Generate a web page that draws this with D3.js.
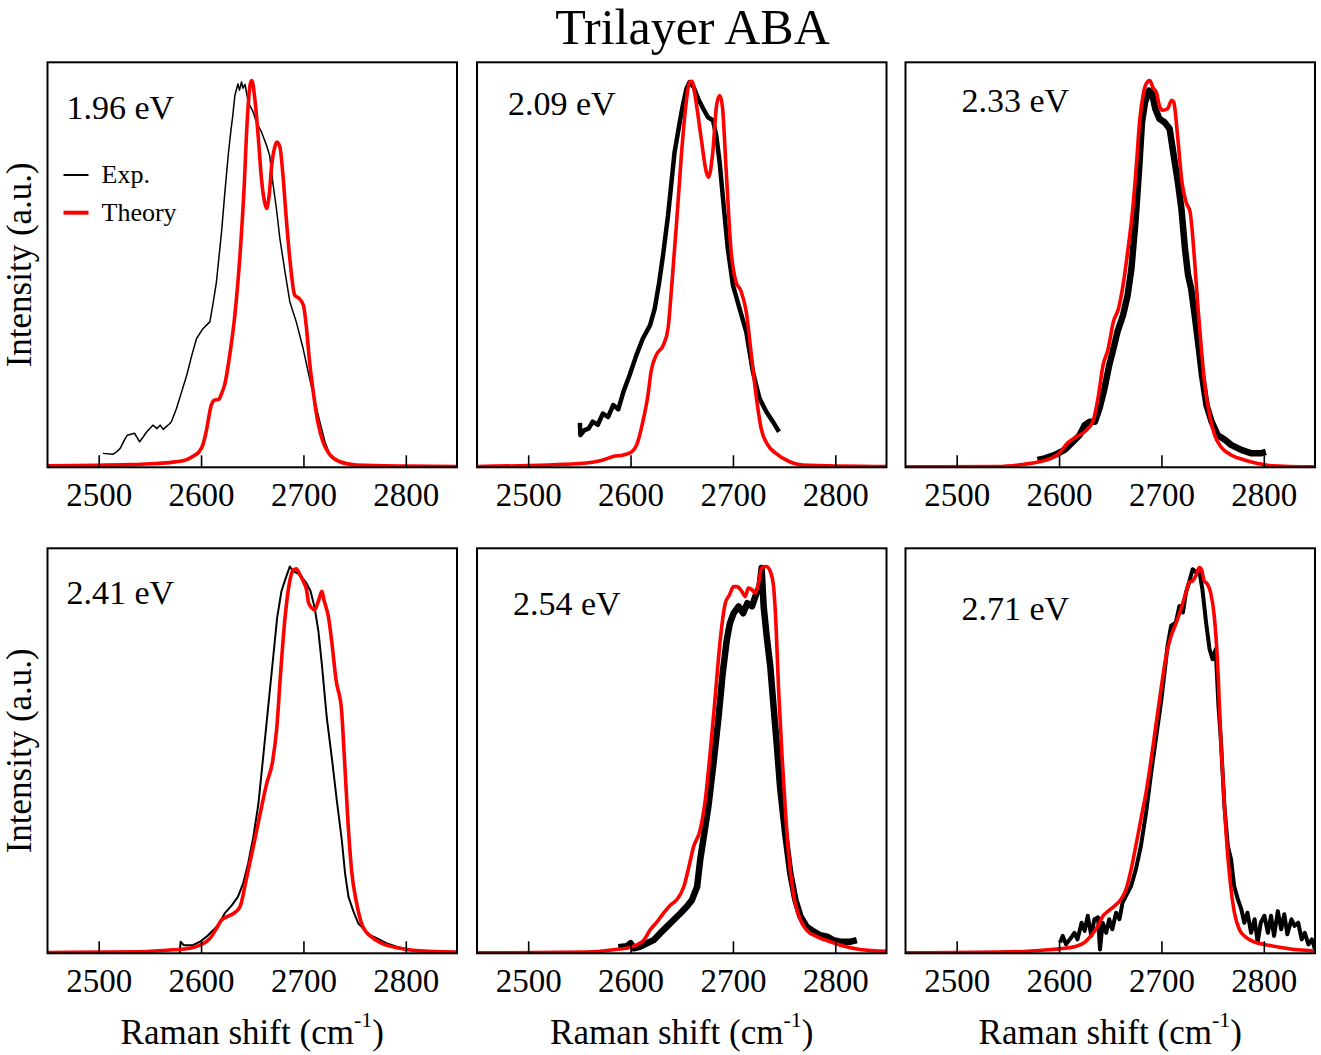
<!DOCTYPE html>
<html>
<head>
<meta charset="utf-8">
<script src="https://cdn.jsdelivr.net/npm/d3@7"></script>
<style>
  html, body { margin: 0; padding: 0; background: #fff; }
  svg { display: block; }
  text { font-family: "Liberation Serif", "Times New Roman", serif; fill: #000; }
</style>
</head>
<body>
<svg id="chart" width="1321" height="1055"></svg>
<script>
// ---------------- DATA ----------------
const chartTitle = "Trilayer ABA";
const energyLabels = ["1.96 eV", "2.09 eV", "2.33 eV", "2.41 eV", "2.54 eV", "2.71 eV"];
const xTickValues = [2500, 2600, 2700, 2800];
const xDomain = [2450, 2850];
const yDomain = [0, 1.047];
const legendLabels = ["Exp.", "Theory"];
const xAxisTitle = "Raman shift (cm";
const xAxisTitleSup = "-1";
const yAxisTitle = "Intensity (a.u.)";

// Theory curves [Raman shift, normalized intensity]
const theory196 = [[2450,0.004],[2530,0.007],[2557,0.010],[2575,0.014],[2586,0.020],[2593,0.030],[2598,0.040],[2602,0.060],[2605,0.092],[2610,0.161],[2613.5,0.174],[2617,0.175],[2620,0.190],[2623,0.213],[2628,0.290],[2633,0.393],[2638,0.548],[2642,0.720],[2645,0.892],[2648,0.990],[2649.6,1.0],[2652.5,0.953],[2656,0.849],[2659,0.746],[2662,0.686],[2664,0.669],[2666.5,0.703],[2669,0.781],[2672,0.828],[2674,0.841],[2677,0.828],[2680,0.755],[2683,0.651],[2687,0.531],[2691.5,0.445],[2696,0.436],[2700,0.419],[2703,0.359],[2706,0.273],[2710,0.187],[2714,0.118],[2719,0.066],[2726,0.032],[2735,0.015],[2752,0.006],[2800,0.003],[2850,0.002]];
const theory209 = [[2450,0.002],[2550,0.010],[2573,0.019],[2583,0.028],[2593,0.032],[2601,0.040],[2606,0.058],[2612,0.118],[2617,0.187],[2620,0.247],[2625,0.290],[2632,0.316],[2636.6,0.359],[2640,0.462],[2645,0.634],[2649.6,0.806],[2654,0.935],[2657.7,0.996],[2660,0.998],[2664,0.944],[2669,0.850],[2674,0.763],[2676,0.750],[2680,0.806],[2684,0.935],[2687,0.961],[2689.6,0.935],[2693.5,0.763],[2698,0.565],[2703,0.479],[2708,0.455],[2713,0.402],[2718,0.290],[2723,0.178],[2727.6,0.100],[2734,0.058],[2742,0.036],[2755,0.015],[2768,0.006],[2850,0.002]];
const theory233 = [[2450,0.001],[2540,0.002],[2566,0.008],[2582,0.015],[2592,0.023],[2600,0.036],[2608,0.062],[2617,0.079],[2625,0.092],[2633,0.118],[2638,0.178],[2643,0.264],[2648,0.307],[2653,0.376],[2658,0.410],[2662.5,0.471],[2667,0.557],[2672,0.669],[2675.5,0.780],[2678.6,0.892],[2682,0.961],[2685,0.991],[2688.6,1.0],[2692,0.980],[2695,0.970],[2698,0.935],[2701,0.923],[2706,0.927],[2710,0.949],[2712,0.944],[2716,0.850],[2720,0.738],[2724,0.686],[2728,0.660],[2732,0.548],[2735.5,0.419],[2739,0.307],[2742,0.221],[2747,0.135],[2752,0.083],[2758,0.053],[2768,0.032],[2781,0.019],[2794,0.010],[2807,0.004],[2850,0.001]];
const theory241 = [[2450,0.002],[2540,0.004],[2573,0.009],[2589,0.013],[2599,0.021],[2609,0.039],[2615,0.064],[2620,0.086],[2625,0.094],[2631.6,0.103],[2638,0.120],[2644,0.189],[2651,0.275],[2657,0.352],[2664,0.438],[2670,0.498],[2674,0.584],[2677.6,0.721],[2682,0.867],[2686,0.953],[2690,0.991],[2693,0.994],[2696.6,0.979],[2700,0.961],[2703,0.940],[2705,0.906],[2708,0.893],[2711,0.888],[2715,0.914],[2718,0.936],[2720,0.914],[2724.6,0.867],[2727.6,0.807],[2732,0.704],[2737,0.635],[2740,0.506],[2743.6,0.335],[2747,0.215],[2752,0.129],[2758,0.069],[2768,0.039],[2781,0.021],[2794,0.013],[2810,0.007],[2850,0.003]];
const theory254 = [[2450,0.001],[2557,0.003],[2583,0.009],[2600,0.016],[2606,0.022],[2613,0.034],[2619,0.060],[2626,0.082],[2632,0.103],[2639,0.125],[2645,0.138],[2652,0.172],[2657,0.224],[2661.6,0.276],[2668,0.319],[2673,0.397],[2677.7,0.517],[2682.7,0.664],[2687.6,0.810],[2692.5,0.905],[2696.7,0.927],[2700.6,0.948],[2704,0.948],[2708.8,0.935],[2712,0.922],[2715,0.944],[2718.6,0.940],[2722,0.931],[2725,0.957],[2728,0.996],[2732.6,1.0],[2736.5,0.987],[2739.7,0.948],[2742,0.853],[2744.6,0.681],[2748,0.509],[2751,0.379],[2754,0.267],[2759,0.155],[2766,0.086],[2772,0.060],[2782,0.043],[2795,0.030],[2808,0.019],[2824,0.010],[2850,0.005]];
const theory271 = [[2450,0.001],[2540,0.003],[2573,0.006],[2589,0.009],[2602,0.012],[2615,0.017],[2625,0.028],[2631,0.045],[2638,0.071],[2643,0.097],[2648,0.109],[2654,0.122],[2660.6,0.140],[2665.5,0.166],[2670.4,0.217],[2675,0.278],[2680,0.347],[2685,0.416],[2690,0.502],[2695,0.597],[2700,0.691],[2704.6,0.769],[2709.5,0.821],[2714,0.851],[2719,0.890],[2724,0.933],[2727,0.959],[2730.5,0.963],[2733.6,0.976],[2737,0.997],[2739,0.993],[2741.7,0.963],[2745,0.954],[2748,0.933],[2751.6,0.872],[2755,0.743],[2758,0.553],[2761.5,0.381],[2764.8,0.252],[2768,0.166],[2771.3,0.105],[2776,0.062],[2782.7,0.041],[2791,0.029],[2800.6,0.023],[2817,0.015],[2833,0.009],[2850,0.006]];

// Experimental curves [Raman shift, normalized intensity]
const exp196 = [[2504,0.036],[2514,0.034],[2517.6,0.040],[2521,0.049],[2526,0.075],[2528,0.083],[2535,0.088],[2540,0.066],[2543.6,0.079],[2547,0.092],[2553,0.109],[2557,0.100],[2560,0.109],[2563,0.098],[2566,0.105],[2569,0.112],[2571,0.118],[2576,0.152],[2581,0.195],[2586,0.238],[2591,0.290],[2595.6,0.333],[2602,0.359],[2608.6,0.376],[2612,0.428],[2615,0.479],[2620,0.608],[2623,0.703],[2626.5,0.806],[2629,0.867],[2631,0.910],[2633,0.961],[2636,0.991],[2637.5,0.975],[2639.5,0.996],[2641,0.980],[2643,0.990],[2646,0.944],[2651,0.918],[2654,0.892],[2659,0.867],[2664,0.832],[2667,0.806],[2670,0.738],[2673.6,0.669],[2677,0.591],[2682,0.505],[2686.7,0.428],[2693,0.376],[2699.7,0.307],[2704.6,0.247],[2709,0.195],[2716,0.118],[2721,0.066],[2726,0.032]];
const exp209 = [[2550.5,0.115],[2551,0.083],[2555,0.096],[2559,0.100],[2563,0.118],[2568,0.110],[2573,0.139],[2578,0.130],[2583,0.161],[2588,0.150],[2593,0.195],[2599,0.238],[2605.7,0.290],[2612,0.333],[2619,0.367],[2623.6,0.410],[2628,0.479],[2631.7,0.548],[2636.6,0.651],[2640,0.738],[2643,0.815],[2648,0.892],[2651,0.935],[2654.5,0.978],[2657.7,0.996],[2661.6,0.983],[2666,0.953],[2671,0.927],[2675.6,0.905],[2680.5,0.897],[2683.7,0.858],[2687,0.789],[2690,0.703],[2695,0.565],[2700,0.471],[2706.5,0.410],[2713,0.350],[2719.5,0.247],[2726,0.178],[2732.5,0.144],[2739,0.118],[2745,0.092]];
const exp233 = [[2579,0.019],[2586,0.023],[2596,0.032],[2605.5,0.045],[2612,0.062],[2620,0.083],[2625,0.109],[2630,0.118],[2635,0.118],[2639.5,0.152],[2644.4,0.204],[2649,0.264],[2654,0.316],[2657,0.350],[2662.5,0.393],[2667,0.445],[2670.7,0.514],[2674.6,0.634],[2678,0.763],[2681,0.892],[2684,0.944],[2688,0.974],[2691,0.965],[2694,0.927],[2698,0.901],[2703,0.892],[2708,0.875],[2712,0.806],[2716,0.738],[2719.5,0.669],[2723,0.565],[2726,0.497],[2729,0.462],[2732.5,0.393],[2735.8,0.324],[2739.6,0.238],[2744,0.161],[2749,0.118],[2755,0.083],[2762,0.071],[2768,0.058],[2778,0.045],[2788,0.036],[2797,0.036],[2802,0.040]];
const exp241 = [[2579,-0.005],[2580,0.030],[2583,0.021],[2592,0.021],[2599,0.030],[2605.4,0.043],[2612,0.060],[2618,0.077],[2623,0.103],[2630,0.124],[2636,0.146],[2641,0.180],[2646,0.232],[2651,0.300],[2656,0.386],[2660.6,0.506],[2665.5,0.635],[2670.4,0.764],[2674.3,0.867],[2678.5,0.936],[2682.7,0.970],[2686.7,1.0],[2690,0.987],[2694,0.983],[2698,0.974],[2703,0.957],[2707,0.936],[2711,0.893],[2714.6,0.833],[2718,0.747],[2722.8,0.609],[2727.7,0.506],[2732.6,0.395],[2737.5,0.292],[2740.7,0.206],[2744,0.146],[2749,0.107],[2753.7,0.077],[2758.6,0.064],[2765,0.047],[2771.5,0.039],[2781,0.026],[2791,0.017],[2801,0.010]];
const exp254 = [[2588,0.016],[2596,0.018],[2600,0.026],[2603,0.013],[2609,0.017],[2616,0.026],[2622.5,0.034],[2629,0.052],[2635.5,0.069],[2642,0.086],[2648.5,0.103],[2655,0.121],[2660,0.138],[2665,0.172],[2668,0.241],[2671,0.293],[2676,0.379],[2681,0.491],[2686,0.612],[2690,0.724],[2694,0.810],[2697,0.853],[2700.6,0.879],[2705.5,0.897],[2710,0.879],[2714,0.905],[2718.6,0.897],[2723,0.931],[2726,0.948],[2728,0.996],[2730,0.897],[2733,0.819],[2736.5,0.741],[2739.7,0.638],[2743,0.534],[2746,0.431],[2751,0.310],[2756,0.207],[2761,0.138],[2766,0.095],[2772,0.069],[2779,0.056],[2785,0.047],[2792,0.043],[2798,0.034],[2805,0.030],[2815,0.030],[2821,0.034]];
const exp271 = [[2601,0.028],[2603.6,0.045],[2606.8,0.023],[2611.7,0.040],[2615,0.053],[2618,0.036],[2622,0.079],[2625,0.058],[2628,0.097],[2631.5,0.045],[2634.5,0.088],[2638,0.093],[2640,0.010],[2642.6,0.079],[2646,0.053],[2649,0.088],[2652,0.062],[2655.7,0.105],[2659,0.088],[2662,0.131],[2667,0.157],[2670.4,0.174],[2675,0.217],[2680,0.278],[2685,0.364],[2690,0.467],[2695,0.562],[2700,0.657],[2703,0.726],[2706,0.795],[2709.5,0.847],[2714,0.855],[2717.6,0.898],[2721,0.881],[2724,0.933],[2727,0.959],[2730.5,0.993],[2733.6,0.985],[2737,0.989],[2740,0.941],[2743.6,0.855],[2747,0.786],[2750,0.760],[2753,0.786],[2755.7,0.640],[2758,0.553],[2761.5,0.381],[2764.8,0.278],[2768,0.243],[2771,0.174],[2774.6,0.140],[2778,0.114],[2781,0.079],[2784,0.105],[2787.6,0.053],[2791,0.088],[2794,0.028],[2797,0.079],[2800.6,0.097],[2804,0.053],[2807,0.097],[2810,0.045],[2813.7,0.109],[2817,0.062],[2820,0.101],[2823,0.049],[2827,0.088],[2830,0.071],[2833.6,0.079],[2837,0.036],[2840,0.053],[2843.6,0.023],[2847,0.036],[2850,0.010]];

// ---------------- LAYOUT / STYLE ----------------
const colLeft = [47.5, 477, 905.5];
const rowTop = [62.3, 548.3];
const panelW = 409.5, panelH = 405;
const expWidths = [1.5, 4.5, 6.5, 2, 6.5, 4];
const labelOffsets = [[19, 57], [31, 53], [56, 50], [19, 56], [36, 67], [56, 72]];
const theoryColor = "#ff0000";

const theories = [theory196, theory209, theory233, theory241, theory254, theory271];
const exps = [exp196, exp209, exp233, exp241, exp254, exp271];

const svg = d3.select("#chart");

svg.append("text")
  .attr("x", 692.5).attr("y", 44)
  .attr("text-anchor", "middle")
  .attr("font-size", 50)
  .text(chartTitle);

const defs = svg.append("defs");

energyLabels.forEach((lab, i) => {
  const col = i % 3, row = Math.floor(i / 3);
  const x0 = colLeft[col], y0 = rowTop[row];
  const g = svg.append("g").attr("transform", `translate(${x0},${y0})`);
  const x = d3.scaleLinear().domain(xDomain).range([0, panelW]);
  const y = d3.scaleLinear().domain(yDomain).range([panelH, 0]);

  defs.append("clipPath").attr("id", "clip" + i)
    .append("rect").attr("x", 0).attr("y", 0).attr("width", panelW).attr("height", panelH);

  const plot = g.append("g").attr("clip-path", `url(#clip${i})`);

  const lineExp = d3.line().x(d => x(d[0])).y(d => y(d[1])).curve(d3.curveLinear);
  const lineTh = d3.line().x(d => x(d[0])).y(d => y(d[1])).curve(d3.curveMonotoneX);

  plot.append("path").datum(exps[i])
    .attr("d", lineExp)
    .attr("fill", "none").attr("stroke", "#000")
    .attr("stroke-width", expWidths[i]).attr("stroke-linejoin", "round");

  plot.append("path").datum(theories[i])
    .attr("d", lineTh)
    .attr("fill", "none").attr("stroke", theoryColor)
    .attr("stroke-width", 3.6).attr("stroke-linejoin", "round");

  // axis
  const axis = d3.axisBottom(x).tickValues(xTickValues).tickSize(-12).tickPadding(15).tickFormat(d3.format("d"));
  const ax = g.append("g").attr("transform", `translate(0,${panelH})`).call(axis);
  ax.select(".domain").remove();
  ax.selectAll(".tick line").attr("stroke", "#000").attr("stroke-width", 1.6);
  ax.selectAll(".tick text")
    .attr("font-family", '"Liberation Serif", "Times New Roman", serif')
    .attr("font-size", 33).attr("fill", "#000");

  // frame
  g.append("rect").attr("x", 0).attr("y", 0).attr("width", panelW).attr("height", panelH)
    .attr("fill", "none").attr("stroke", "#000").attr("stroke-width", 2);

  // energy label
  g.append("text")
    .attr("x", labelOffsets[i][0]).attr("y", labelOffsets[i][1])
    .attr("font-size", 34)
    .text(lab);

  // x axis title (bottom row only)
  if (row === 1) {
    const xt = g.append("text")
      .attr("x", panelW / 2).attr("y", panelH + 91)
      .attr("text-anchor", "middle")
      .attr("font-size", 35);
    xt.append("tspan").text(xAxisTitle);
    xt.append("tspan").attr("font-size", 22).attr("dy", -17).text(xAxisTitleSup);
    xt.append("tspan").attr("dy", 17).text(")");
  }

  // y axis title
  if (col === 0) {
    svg.append("text")
      .attr("transform", `translate(31,${y0 + panelH / 2}) rotate(-90)`)
      .attr("text-anchor", "middle")
      .attr("font-size", 35)
      .text(yAxisTitle);
  }

  // legend
  if (i === 0) {
    const lg = g.append("g");
    const items = [{ c: "#000", w: 2, t: legendLabels[0], yy: 112.7 }, { c: theoryColor, w: 4, t: legendLabels[1], yy: 150.4 }];
    items.forEach(it => {
      lg.append("line").attr("x1", 16).attr("x2", 41).attr("y1", it.yy).attr("y2", it.yy)
        .attr("stroke", it.c).attr("stroke-width", it.w);
      lg.append("text").attr("x", 54).attr("y", it.yy + 8.5).attr("font-size", 26).text(it.t);
    });
  }
});
</script>
</body>
</html>
